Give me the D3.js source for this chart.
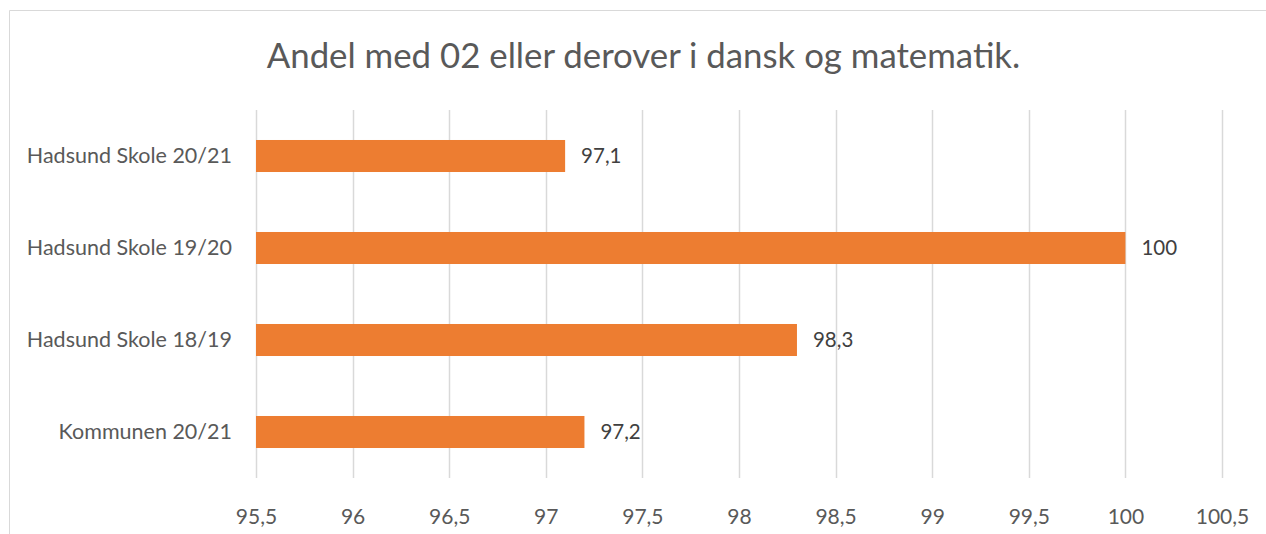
<!DOCTYPE html>
<html>
<head>
<meta charset="utf-8">
<script src="https://cdn.jsdelivr.net/npm/d3@7"></script>
<style>
  body { margin: 0; background: #fff; overflow: hidden; }
  svg { display: block; font-family: Lato, "Open Sans", sans-serif; }
</style>
</head>
<body>
<div id="chart"></div>
<script>
// chart data
var title = "Andel med 02 eller derover i dansk og matematik.";
var categories = ["Hadsund Skole 20/21", "Hadsund Skole 19/20", "Hadsund Skole 18/19", "Kommunen 20/21"];
var values = [97.1, 100, 98.3, 97.2];
var tickValues = [95.5, 96, 96.5, 97, 97.5, 98, 98.5, 99, 99.5, 100, 100.5];

var width = 1266, height = 534;
var margin = {top: 110, right: 44, bottom: 56, left: 256};
var innerWidth = width - margin.left - margin.right;
var innerHeight = height - margin.top - margin.bottom;

var fmt = function(v) { return String(v).replace(".", ","); };

var svg = d3.select("#chart")
      .append("svg")
      .attr("width", width)
      .attr("height", height);

// outer chart border: only top and left edges are inside the window
svg.append("path")
  .attr("d", "M9.5," + height + "V10.5H" + width)
  .attr("fill", "none")
  .attr("stroke", "#d9d9d9");

svg.append("text")
  .attr("x", 643.5)
  .attr("y", 68)
  .attr("text-anchor", "middle")
  .attr("fill", "#595959")
  .attr("font-size", 34.8)
  .text(title);

var g = svg.append("g")
      .attr("transform", "translate(" + margin.left + "," + margin.top + ")");

var xScale = d3.scaleLinear()
      .domain([95.5, 100.5])
      .range([0, innerWidth]);

var yScale = d3.scaleBand()
      .domain(categories)
      .range([0, innerHeight])
      .paddingInner(0.652)
      .paddingOuter(0.326);

// vertical gridlines
g.selectAll(".grid")
  .data(tickValues)
  .enter()
  .append("line")
  .attr("class", "grid")
  .attr("x1", function(d) { return Math.round(xScale(d)) + 0.5; })
  .attr("x2", function(d) { return Math.round(xScale(d)) + 0.5; })
  .attr("y1", 0)
  .attr("y2", innerHeight)
  .attr("stroke", "#d9d9d9")
  .attr("stroke-width", 1.5);

// bars
g.selectAll(".bar")
  .data(values)
  .enter()
  .append("rect")
  .attr("class", "bar")
  .attr("x", xScale(95.5))
  .attr("y", function(d, i) { return yScale(categories[i]); })
  .attr("width", function(d) { return xScale(d) - xScale(95.5); })
  .attr("height", yScale.bandwidth())
  .attr("fill", "#ed7d31");

// value labels
g.selectAll(".val")
  .data(values)
  .enter()
  .append("text")
  .attr("class", "val")
  .attr("x", function(d) { return xScale(d) + 16; })
  .attr("y", function(d, i) { return yScale(categories[i]) + yScale.bandwidth() / 2 + 7; })
  .attr("fill", "#404040")
  .attr("font-size", 20.5)
  .text(fmt);

// x axis labels
var xAxis = d3.axisBottom(xScale)
      .tickValues(tickValues)
      .tickFormat(fmt)
      .tickSize(0)
      .tickPadding(31);

var xg = g.append("g")
      .attr("transform", "translate(0," + innerHeight + ")")
      .call(xAxis)
      .attr("font-size", 21)
      .attr("font-family", null);
xg.select(".domain").remove();
xg.selectAll("text").attr("fill", "#595959");

// category labels
g.selectAll(".cat")
  .data(categories)
  .enter()
  .append("text")
  .attr("class", "cat")
  .attr("x", -24)
  .attr("y", function(d) { return yScale(d) + yScale.bandwidth() / 2 + 7; })
  .attr("text-anchor", "end")
  .attr("fill", "#595959")
  .attr("font-size", 21.5)
  .text(function(d) { return d; });
</script>
</body>
</html>
